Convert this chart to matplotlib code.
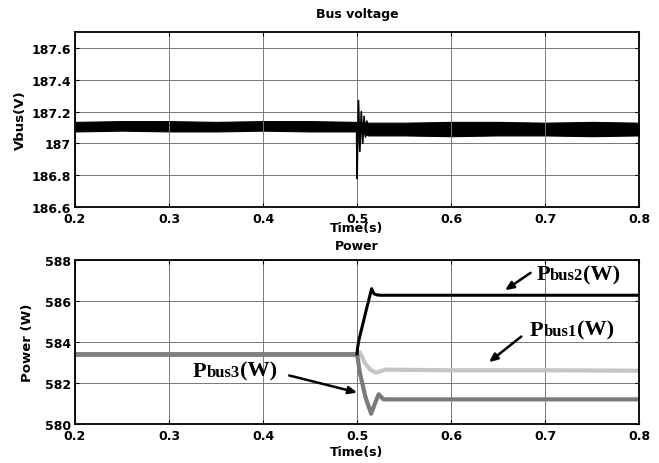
import numpy as np
import matplotlib
matplotlib.use('Agg')
import matplotlib.pyplot as plt
from matplotlib.offsetbox import TextArea, HPacker, AnnotationBbox

plt.rcParams['font.family'] = ['DejaVu Sans']
plt.rcParams['font.weight'] = 'bold'
plt.rcParams['axes.labelweight'] = 'bold'
plt.rcParams['axes.titleweight'] = 'bold'

# bus voltage: ripple band envelope
t_env = [0.2, 0.25, 0.3, 0.35, 0.4, 0.45, 0.4995, 0.512, 0.55, 0.6, 0.65, 0.7, 0.75, 0.8]
v_up = [187.135, 187.14, 187.14, 187.135, 187.14, 187.14, 187.135, 187.13, 187.13, 187.135, 187.135, 187.13, 187.135, 187.13]
v_lo = [187.075, 187.08, 187.075, 187.075, 187.08, 187.075, 187.075, 187.05, 187.05, 187.045, 187.05, 187.05, 187.045, 187.05]
# transient at the load step
t_tr = [0.4995, 0.5, 0.5015, 0.503, 0.5045, 0.506, 0.5075, 0.509, 0.5105, 0.512]
v_tr = [187.1, 186.78, 187.27, 186.95, 187.2, 187.0, 187.17, 187.04, 187.14, 187.08]

# power
t_pre = [0.2, 0.5]
p_pre = [583.42, 583.42]
t_p2 = [0.5, 0.5005, 0.502, 0.51, 0.5155, 0.518, 0.521, 0.525, 0.8]
p_p2 = [583.42, 583.7, 584.1, 585.6, 586.6, 586.35, 586.3, 586.28, 586.28]
t_p1 = [0.5, 0.503, 0.508, 0.514, 0.52, 0.53, 0.6, 0.7, 0.8]
p_p1 = [583.42, 583.5, 583.0, 582.65, 582.5, 582.65, 582.62, 582.62, 582.6]
t_p3 = [0.5, 0.503, 0.509, 0.515, 0.519, 0.523, 0.528, 0.8]
p_p3 = [583.42, 582.5, 581.3, 580.5, 581.0, 581.45, 581.2, 581.2]

xticks = [0.2, 0.3, 0.4, 0.5, 0.6, 0.7, 0.8]
xlabels = ['0.2', '0.3', '0.4', '0.5', '0.6', '0.7', '0.8']
vticks = [186.6, 186.8, 187.0, 187.2, 187.4, 187.6]
vlabels = ['186.6', '186.8', '187', '187.2', '187.4', '187.6']
pticks = [580, 582, 584, 586, 588]

fig = plt.figure(figsize=(6.59, 4.64), dpi=100)
ax1 = fig.add_axes([0.1138, 0.5517, 0.856, 0.3772])
ax2 = fig.add_axes([0.1138, 0.0841, 0.856, 0.3534])

def style(ax):
	ax.set_xlim(0.2, 0.8)
	ax.set_xticks(xticks)
	ax.set_xticklabels(xlabels)
	ax.grid(True, color='#777777', lw=0.7)
	ax.tick_params(direction='in', top=True, right=True, length=3, labelsize=9)
	ax.tick_params(axis='x', pad=3.5)
	ax.tick_params(axis='y', pad=3)
	for s in ax.spines.values():
		s.set_linewidth(1.3)

ax1.fill_between(t_env, v_lo, v_up, color='black', lw=0.8)
ax1.plot(t_tr, v_tr, color='black', lw=1.2)
style(ax1)
ax1.set_ylim(186.6, 187.7)
ax1.set_yticks(vticks)
ax1.set_yticklabels(vlabels)
ax1.set_title('Bus voltage', fontsize=9, pad=11)
ax1.set_xlabel('Time(s)', fontsize=9, va='top')
ax1.xaxis.set_label_coords(0.5, -0.08)
ax1.set_ylabel('Vbus(V)', fontsize=9.5)
ax1.yaxis.set_label_coords(-0.085, 0.5)

ax2.plot(t_pre, p_pre, color='#808080', lw=3.5, solid_capstyle='butt')
ax2.plot(t_p1, p_p1, color='#c4c4c4', lw=3)
ax2.plot(t_p3, p_p3, color='#7a7a7a', lw=3)
ax2.plot(t_p2, p_p2, color='black', lw=2.2)
style(ax2)
ax2.set_ylim(580, 588)
ax2.set_yticks(pticks)
ax2.set_title('Power', fontsize=9, pad=8)
ax2.set_xlabel('Time(s)', fontsize=9, va='top')
ax2.xaxis.set_label_coords(0.5, -0.13)
ax2.set_ylabel('Power (W)', fontsize=9.5)
ax2.yaxis.set_label_coords(-0.072, 0.5)

big = dict(family='Liberation Serif', weight='bold', size=16)
small = dict(family='Liberation Serif', weight='bold', size=12)

def label(ax, name, xy):
	box = HPacker(children=[TextArea('P', textprops=big), TextArea(name, textprops=small),
							TextArea('(W)', textprops=big)], align='baseline', pad=0, sep=0)
	ab = AnnotationBbox(box, xy, xycoords='data', box_alignment=(0, 0.5), frameon=False, pad=0)
	ax.add_artist(ab)

def arrow(ax, head, tail):
	ax.annotate('', xy=head, xytext=tail,
				arrowprops=dict(arrowstyle='-|>,head_length=0.5,head_width=0.22', color='black', lw=1.8))

label(ax2, 'bus2', (0.691, 587.3))
arrow(ax2, (0.655, 586.45), (0.687, 587.45))
label(ax2, 'bus1', (0.684, 584.6))
arrow(ax2, (0.638, 582.93), (0.677, 584.35))
label(ax2, 'bus3', (0.3255, 582.6))
arrow(ax2, (0.503, 581.5), (0.425, 582.4))

fig.savefig('out.png', dpi=100)
